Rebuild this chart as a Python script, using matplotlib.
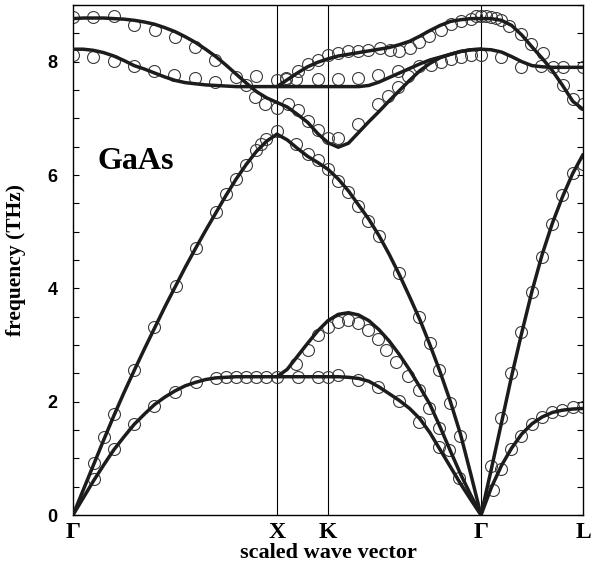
"""
GaAs phonon dispersion: calculated branches (lines) vs. measured points (circles).
"""

import matplotlib
matplotlib.use("Agg")
import matplotlib.pyplot as plt
from matplotlib.ticker import MultipleLocator

# ── Path positions (scaled wave vector) ─────────────────────────────────────────
k_points = [0.0, 1.0, 1.25, 2.0, 2.5]
k_labels = ["Γ", "X", "K", "Γ", "L"]

# ── Calculated branches (THz) ──────────────────────────────────────────────────
# Γ → X
x_gx = [0.0, 0.05, 0.1, 0.15, 0.2, 0.25, 0.3, 0.35, 0.4, 0.45, 0.5,
        0.55, 0.6, 0.65, 0.7, 0.75, 0.8, 0.85, 0.9, 0.95, 1.0]
ta_gx = [0.0, 0.30, 0.60, 0.88, 1.15, 1.38, 1.60, 1.78, 1.95, 2.08, 2.19,
         2.28, 2.34, 2.39, 2.42, 2.43, 2.44, 2.44, 2.44, 2.44, 2.44]
la_gx = [0.0, 0.44, 0.88, 1.32, 1.75, 2.16, 2.55, 2.93, 3.30, 3.67, 4.02,
         4.37, 4.70, 5.02, 5.33, 5.64, 5.93, 6.19, 6.42, 6.60, 6.72]
to_gx = [8.22, 8.22, 8.20, 8.16, 8.10, 8.02, 7.93, 7.87, 7.80, 7.73, 7.67,
         7.63, 7.61, 7.59, 7.58, 7.57, 7.56, 7.56, 7.56, 7.56, 7.56]
lo_gx = [8.76, 8.77, 8.77, 8.77, 8.76, 8.75, 8.73, 8.70, 8.66, 8.60, 8.53,
         8.44, 8.34, 8.22, 8.09, 7.94, 7.78, 7.62, 7.47, 7.36, 7.28]

# X → K → Γ
x_xkg = [1.0, 1.05, 1.1, 1.15, 1.2, 1.25, 1.3, 1.35, 1.4, 1.45, 1.5,
         1.55, 1.6, 1.65, 1.7, 1.75, 1.8, 1.85, 1.9, 1.95, 2.0]
ta1_xkg = [2.44, 2.44, 2.44, 2.44, 2.44, 2.44, 2.44, 2.43, 2.41, 2.36, 2.26,
           2.14, 2.02, 1.88, 1.70, 1.45, 1.15, 0.85, 0.55, 0.27, 0.0]
ta2_xkg = [2.44, 2.57, 2.80, 3.03, 3.25, 3.43, 3.54, 3.57, 3.53, 3.43, 3.27,
           3.07, 2.83, 2.56, 2.26, 1.95, 1.55, 1.13, 0.72, 0.35, 0.0]
la_xkg = [6.72, 6.62, 6.47, 6.33, 6.22, 6.10, 5.93, 5.72, 5.47, 5.22, 4.93,
          4.60, 4.24, 3.85, 3.45, 3.00, 2.52, 2.00, 1.42, 0.72, 0.0]
o1_xkg = [7.28, 7.20, 7.07, 6.93, 6.73, 6.57, 6.49, 6.56, 6.75, 6.94, 7.12,
          7.31, 7.49, 7.67, 7.84, 7.97, 8.07, 8.13, 8.18, 8.21, 8.22]
o2_xkg = [7.56, 7.56, 7.56, 7.56, 7.56, 7.56, 7.56, 7.56, 7.56, 7.58, 7.64,
          7.72, 7.80, 7.88, 7.96, 8.03, 8.08, 8.13, 8.18, 8.21, 8.22]
o3_xkg = [7.56, 7.68, 7.80, 7.91, 7.99, 8.05, 8.10, 8.13, 8.16, 8.19, 8.22,
          8.25, 8.30, 8.36, 8.45, 8.55, 8.64, 8.71, 8.74, 8.76, 8.76]

# Γ → L
x_gl = [2.0, 2.05, 2.1, 2.15, 2.2, 2.25, 2.3, 2.35, 2.4, 2.45, 2.5]
ta_gl = [0.0, 0.48, 0.87, 1.18, 1.43, 1.61, 1.73, 1.81, 1.85, 1.87, 1.88]
la_gl = [0.0, 0.80, 1.62, 2.45, 3.22, 3.95, 4.60, 5.15, 5.62, 6.03, 6.36]
to_gl = [8.22, 8.21, 8.17, 8.09, 8.00, 7.93, 7.91, 7.90, 7.90, 7.90, 7.90]
lo_gl = [8.76, 8.76, 8.73, 8.64, 8.47, 8.26, 8.06, 7.84, 7.58, 7.30, 7.16]

# ── Measured points (circles) ──────────────────────────────────────────────────
meas_x = [
    # Γ-X  TA
    0.103, 0.2, 0.299, 0.396, 0.499, 0.602, 0.70, 0.749, 0.801, 0.85, 0.899, 0.948, 1.0,
    # Γ-X  LA
    0.103, 0.152, 0.2, 0.299, 0.396, 0.504, 0.602, 0.703, 0.752, 0.801, 0.85, 0.899, 0.92, 0.948, 1.0,
    # Γ-X  TO
    0.0, 0.098, 0.2, 0.3, 0.396, 0.494, 0.597, 0.695, 0.80, 0.899, 1.0,
    # Γ-X  LO
    0.0, 0.098, 0.2, 0.3, 0.401, 0.499, 0.597, 0.695, 0.85, 0.891, 0.94, 1.0,
    # X-K-Γ  lower TA
    1.103, 1.2, 1.25, 1.3, 1.397, 1.494, 1.597, 1.698, 1.796,
    # X-K-Γ  upper TA
    1.095, 1.152, 1.2, 1.25, 1.3, 1.348, 1.397, 1.445, 1.494, 1.535, 1.584, 1.641,
    1.698, 1.747, 1.796, 1.845, 1.894,
    # X-K-Γ  LA
    1.095, 1.152, 1.2, 1.25, 1.3, 1.348, 1.397, 1.445, 1.5, 1.597, 1.698, 1.751,
    1.796, 1.849, 1.898,
    # X-K-Γ  lower optic
    1.054, 1.103, 1.152, 1.2, 1.25, 1.3, 1.397, 1.494, 1.543, 1.592, 1.641,
    # X-K-Γ  middle optic
    1.046, 1.095, 1.2, 1.3, 1.397, 1.494, 1.592, 1.698, 1.756, 1.805, 1.853, 1.902, 1.951, 2.0,
    # X-K-Γ  upper optic
    1.046, 1.103, 1.152, 1.2, 1.25, 1.3, 1.348, 1.397, 1.445, 1.503, 1.552, 1.6,
    1.65, 1.698, 1.747, 1.805, 1.853, 1.902, 1.951, 1.976, 2.0,
    # Γ-L  TA
    2.057, 2.049, 2.098, 2.147, 2.196, 2.25, 2.299, 2.348, 2.397, 2.449, 2.498,
    # Γ-L  LA
    2.098, 2.147, 2.196, 2.25, 2.299, 2.348, 2.397, 2.449, 2.498,
    # Γ-L  TO
    2.098, 2.196, 2.294, 2.4, 2.498,
    # Γ-L  LO
    2.025, 2.049, 2.074, 2.098, 2.139, 2.196, 2.245, 2.302, 2.351, 2.4, 2.449, 2.498,
]
meas_y = [
    0.63, 1.17, 1.60, 1.92, 2.17, 2.35, 2.41, 2.43, 2.43, 2.43, 2.43, 2.43, 2.43,
    0.92, 1.38, 1.79, 2.56, 3.32, 4.04, 4.72, 5.35, 5.66, 5.93, 6.18, 6.44, 6.54, 6.64, 6.77,
    8.12, 8.09, 8.02, 7.93, 7.84, 7.77, 7.71, 7.64, 7.73, 7.74, 7.68,
    8.78, 8.78, 8.80, 8.65, 8.56, 8.44, 8.26, 8.03, 7.58, 7.37, 7.25, 7.18,
    2.44, 2.44, 2.44, 2.47, 2.39, 2.26, 2.01, 1.64, 1.20,
    2.67, 2.91, 3.17, 3.32, 3.41, 3.44, 3.39, 3.26, 3.11, 2.91, 2.70, 2.45,
    2.20, 1.88, 1.53, 1.15, 0.65,
    6.55, 6.37, 6.26, 6.11, 5.90, 5.70, 5.46, 5.19, 4.92, 4.27, 3.49, 3.03,
    2.56, 1.97, 1.39,
    7.25, 7.15, 6.95, 6.80, 6.66, 6.66, 6.90, 7.25, 7.40, 7.55, 7.74,
    7.69, 7.69, 7.69, 7.69, 7.71, 7.77, 7.84, 7.93, 7.95, 7.99, 8.05, 8.08, 8.11, 8.11,
    7.71, 7.84, 7.96, 8.03, 8.11, 8.16, 8.18, 8.19, 8.21, 8.25, 8.21, 8.19,
    8.25, 8.34, 8.46, 8.56, 8.66, 8.72, 8.75, 8.81, 8.81,
    0.44, 0.86, 0.82, 1.16, 1.39, 1.60, 1.73, 1.82, 1.86, 1.91, 1.91,
    1.72, 2.50, 3.23, 3.94, 4.56, 5.14, 5.64, 6.03, 6.20,
    8.09, 7.90, 7.93, 7.90, 7.90,
    8.81, 8.78, 8.77, 8.73, 8.63, 8.49, 8.31, 8.16, 7.90, 7.58, 7.34, 7.25,
]

SERIF = "Liberation Serif"
SANS = "Liberation Sans"
LINE_C = "#1c1c1c"

fig = plt.figure(figsize=(5.93, 5.73), dpi=100)
ax = fig.add_axes([73 / 593, 58 / 573, 510 / 593, 510 / 573])

# measured points underneath the curves
ax.plot(meas_x, meas_y, "o", ms=8.6, mfc="none", mec="#3a3a3a", mew=0.8, zorder=2)

segments = [
    (x_gx, [ta_gx, la_gx, to_gx, lo_gx]),
    (x_xkg, [ta1_xkg, ta2_xkg, la_xkg, o1_xkg, o2_xkg, o3_xkg]),
    (x_gl, [ta_gl, la_gl, to_gl, lo_gl]),
]
for xs, branches in segments:
    for ys in branches:
        ax.plot(xs, ys, color=LINE_C, lw=2.5, solid_joinstyle="round",
                solid_capstyle="round", zorder=3)

for k in k_points[1:-1]:
    ax.axvline(k, color="black", lw=0.8, zorder=1)

ax.set_xlim(0, 2.5)
ax.set_ylim(0, 9)

ax.set_xticks(k_points)
ax.set_xticklabels(k_labels, fontfamily=SERIF, fontweight="bold", fontsize=17)
ax.tick_params(axis="x", length=0, pad=5)

ax.set_yticks([0, 2, 4, 6, 8])
ax.yaxis.set_minor_locator(MultipleLocator(0.5))
ax.tick_params(axis="y", which="both", direction="in", length=4, width=0.8,
               left=True, right=True, pad=11)
for lbl in ax.get_yticklabels():
    lbl.set_fontfamily(SANS)
    lbl.set_fontweight("bold")
    lbl.set_fontsize(13)

for sp in ax.spines.values():
    sp.set_linewidth(1.0)

ax.set_xlabel("scaled wave vector", fontfamily=SERIF, fontweight="bold",
              fontsize=16, labelpad=0)
ax.set_ylabel("frequency (THz)", fontfamily=SERIF, fontweight="bold",
              fontsize=15.5)
ax.yaxis.set_label_coords(-0.092, 0.5)

ax.text(0.122, 6.11, "GaAs", fontfamily=SERIF, fontweight="bold", fontsize=23,
        ha="left", va="baseline")

fig.savefig("out.png", dpi=100)
